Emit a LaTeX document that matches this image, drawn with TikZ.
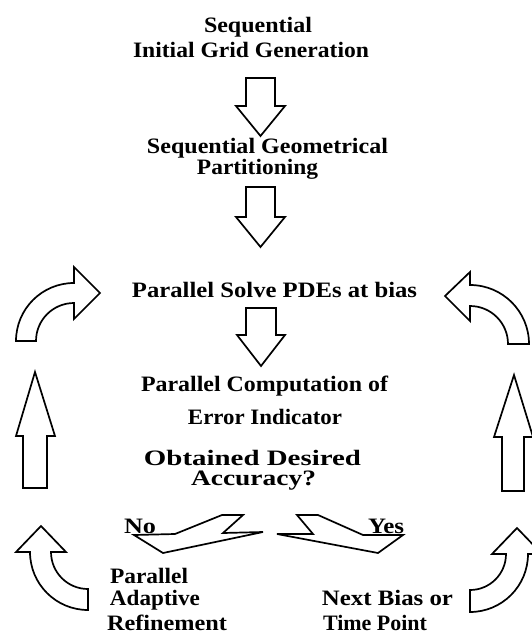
\documentclass[tikz,border=0pt]{standalone}
\usepackage{fontspec}
\setmainfont{Liberation Serif}
% set a caption to a given width, keeping its natural height
\newcommand\fitto[2]{\resizebox{#1pt}{\height}{#2}}
\begin{document}
\begin{tikzpicture}[x=1pt,y=-1pt,
  blockarrow/.style={draw=black,line width=1.7pt,line join=miter,fill=white},
  label/.style={inner sep=0pt,anchor=base,font=\fontsize{22}{24}\selectfont\bfseries}]
\clip (0,0) rectangle (532,634);
\fill[white] (0,0) rectangle (532,634);

% stage captions
\node[label] (seq1) at (258,33) {\fitto{108}{Sequential}};
\node[label] (seq2) at (251,57) {\fitto{236}{Initial Grid Generation}};
\node[label] (part1) at (267.5,153) {\fitto{241}{Sequential Geometrical}};
\node[label] (part2) at (257.5,174) {\fitto{121}{Partitioning}};
\node[label] (solve) at (274.5,297) {\fitto{285}{Parallel Solve PDEs at bias}};
\node[label] (err1) at (264.5,391) {\fitto{247}{Parallel Computation of}};
\node[label] (err2) at (265,424) {\fitto{154}{Error Indicator}};
\node[label] (acc1) at (252.5,465.5) {\fitto{217}{Obtained Desired}};
\node[label] (acc2) at (253.5,485.5) {\fitto{125}{Accuracy?}};
\node[label] (no) at (140,533) {\fitto{32}{No}};
\node[label] (yes) at (386,533) {\fitto{36}{Yes}};
\node[label] (ref1) at (149,583) {\fitto{78}{Parallel}};
\node[label] (ref2) at (155,605) {\fitto{90}{Adaptive}};
\node[label] (ref3) at (167,630) {\fitto{120}{Refinement}};
\node[label] (next1) at (387.5,605) {\fitto{131}{Next Bias or}};
\node[label] (next2) at (375,630) {\fitto{104}{Time Point}};

% downward block arrows on the main path
\draw[blockarrow] (246,78) -- (275,78) -- (275,106) -- (285,106) -- (260.5,136)
  -- (236,106) -- (246,106) -- cycle;
\draw[blockarrow] (246,187) -- (275,187) -- (275,217) -- (285,217) -- (260.5,247)
  -- (236,217) -- (246,217) -- cycle;
\draw[blockarrow] (246,308) -- (276,308) -- (276,335) -- (285,335) -- (261,366)
  -- (237,335) -- (246,335) -- cycle;

% branch arrows below the accuracy test
\draw[blockarrow] (134,535) -- (175,534) -- (222,515) -- (243,515) -- (223,533)
  -- (263,532) -- (163,553) -- cycle;
\draw[blockarrow] (277,534) -- (313,534) -- (297,515) -- (318,515) -- (363,535)
  -- (403,535) -- (378,553) -- cycle;

% refinement loop (left side)
\draw[blockarrow] (16,552) -- (41,526) -- (66,552) -- (51,552)
  arc[start angle=180,end angle=90,radius=37] -- (88,610)
  arc[start angle=90,end angle=180,radius=58] -- cycle;
\draw[blockarrow] (23,488) -- (23,436) -- (16,436) -- (35,372) -- (55,436)
  -- (47,436) -- (47,488) -- cycle;
\draw[blockarrow] (16,341) arc[start angle=180,end angle=270,radius=58]
  -- (74,267) -- (100,293) -- (74,319) -- (74,303)
  arc[start angle=270,end angle=180,radius=38] -- cycle;

% next-bias loop (right side)
\draw[blockarrow] (492,554) -- (517,528) -- (542,554) -- (528,554)
  arc[start angle=0,end angle=90,radius=58] -- (470,590)
  arc[start angle=90,end angle=0,radius=36] -- cycle;
\draw[blockarrow] (502,491) -- (502,437) -- (494,437) -- (514,375) -- (533,437)
  -- (524,437) -- (524,491) -- cycle;
\draw[blockarrow] (529,344) arc[start angle=0,end angle=-90,radius=59]
  -- (470,272) -- (445,296) -- (470,321) -- (470,306)
  arc[start angle=-90,end angle=0,radius=38] -- cycle;
\end{tikzpicture}
\end{document}
